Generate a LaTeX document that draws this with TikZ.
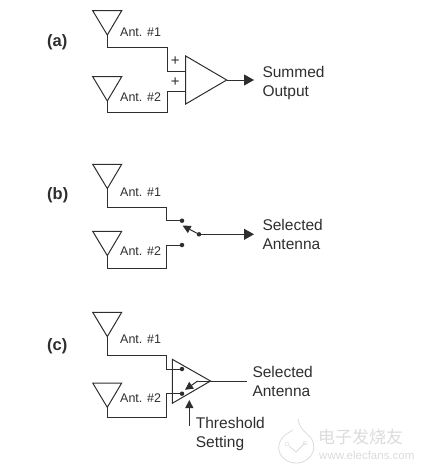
\documentclass[tikz,border=0pt]{standalone}
\usepackage{fontspec}
\setmainfont{Liberation Sans}
\newfontfamily\cjkfont{Noto Sans CJK SC}
\usetikzlibrary{arrows.meta,calc}
\definecolor{inkc}{gray}{0.18}
\definecolor{markc}{gray}{0.86}
\tikzset{
  wire/.style={draw=inkc,line width=1pt},
  bigtip/.style={-{Triangle[length=10pt,width=11pt]}},
  smalltip/.style={-{Triangle[length=8pt,width=8pt]}},
  lab/.style={anchor=west,inner sep=0pt,text=inkc,text height=11pt,text depth=0pt,font=\fontsize{15.5}{17}\selectfont},
  antlab/.style={anchor=west,inner sep=0pt,text=inkc,text height=9pt,text depth=0pt,font=\fontsize{12.5}{14}\selectfont},
  pluslab/.style={inner sep=0pt,text=inkc,font=\fontsize{15}{15}\selectfont},
  panel/.style={anchor=west,inner sep=0pt,text=inkc,font=\fontsize{16.5}{18}\selectfont\bfseries},
  contact/.style={circle,fill=inkc,inner sep=0pt,minimum size=4.5pt},
}
\begin{document}
\begin{tikzpicture}[x=1pt,y=-1pt,>=Stealth]
\useasboundingbox (0,0) rectangle (425,471);
% --- Antennas ---
\foreach \n/\top in {a1/10.7,a2/76.7,b1/164.3,b2/231.3,c1/312.3,c2/383}
  {\coordinate (\n L) at (92.7,\top);
   \coordinate (\n R) at (121.7,\top);
   \coordinate (\n T) at (107.3,\top+24.3);
   \draw[wire] (\n L) -- (\n R) -- (\n T) -- cycle;}
\foreach \n/\y/\txt in {a1/32/1,a2/96.7/2,b1/192.3/1,b2/250.7/2,c1/339.3/1,c2/397.7/2}
  {\node[antlab] (\n lab) at (120,\y) {Ant. \#\txt};}
% --- Summed ---
\node[panel] (alab) at (47,42) {(a)};
\coordinate (ampT) at (185.7,56); \coordinate (ampB) at (185.7,104);
\coordinate (ampO) at (226.7,80); \coordinate (aout) at (254,80);
\coordinate (ain1) at (185.7,71); \coordinate (ain2) at (185.7,91);
\draw[wire] (ampT) -- (ampO) -- (ampB) -- cycle;
\draw[wire] (a1T) -- (107.3,47.7) -- (167.7,47.7) -- (167.7,71) -- (ain1);
\draw[wire] (a2T) -- (107.3,112.3) -- (167.7,112.3) -- (167.7,91) -- (ain2);
\draw[wire,bigtip] (ampO) -- (aout);
\node[pluslab] (plus1) at (175.3,61.3) {+};
\node[pluslab] (plus2) at (175.3,82.3) {+};
\node[lab] (sum) at (262.3,72) {Summed};
\node[lab] (outp) at (262.3,91) {Output};
% --- Switched ---
\node[panel] (blab) at (47,195.7) {(b)};
\node[contact] (bc1) at (182,220.7) {};
\node[contact] (bc2) at (182,245) {};
\node[contact] (bp) at (199,234.3) {};
\coordinate (bout) at (254,234.3); \coordinate (barm) at (182.7,225.7);
\draw[wire] (b1T) -- (107.3,207.3) -- (166,207.3) -- (166,220.7) -- (bc1);
\draw[wire] (b2T) -- (107.3,268.7) -- (166,268.7) -- (166,245) -- (bc2);
\draw[wire,smalltip] (bp) -- (barm);
\draw[wire,bigtip] (bp) -- (bout);
\node[lab] (bsel) at (262.3,225) {Selected};
\node[lab] (bant) at (262.3,244.3) {Antenna};
% --- Threshold ---
\node[panel] (clab) at (47,346) {(c)};
\coordinate (cmpT) at (172.3,359.3); \coordinate (cmpB) at (172.3,403.3);
\coordinate (cmpO) at (210.5,381); \coordinate (cout) at (246.7,381);
\coordinate (cknee) at (197.7,381); \coordinate (carm) at (185,389.8);
\coordinate (cth) at (189.3,426); \coordinate (cthT) at (189.3,400);
\node[contact] (cc1) at (182,369) {};
\node[contact] (cc2) at (182,393.7) {};
\draw[wire] (cmpT) -- (cmpO) -- (cmpB) -- cycle;
\draw[wire] (c1T) -- (107.3,355.7) -- (166,355.7) -- (166,369) -- (cc1);
\draw[wire] (c2T) -- (107.3,417) -- (166,417) -- (166,393.7) -- (cc2);
\draw[wire] (cmpO) -- (cout);
\draw[wire] (cmpO) -- (cknee);
\draw[wire,smalltip] (cknee) -- (carm);
\draw[wire,smalltip] (cth) -- (cthT);
\node[lab] (csel) at (252.3,371.7) {Selected};
\node[lab] (cant) at (252.3,391) {Antenna};
\node[lab] (thr) at (195.7,423) {Threshold};
\node[lab] (sett) at (195.7,442.3) {Setting};
% --- Site mark ---
\draw[markc,line width=0.8pt] (298,419) .. controls (300,430) and (306,432) .. (311,438)
  .. controls (320,452) and (306,464) .. (296,463)
  .. controls (284,463) and (277,453) .. (279,445)
  .. controls (281,436) and (288,433) .. (293,430);
\draw[markc,line width=0.8pt] (305,443) -- (296,452) -- (289,446);
\node[draw=markc,circle,inner sep=0pt,minimum size=4pt] (mk1) at (305,443) {};
\node[draw=markc,circle,inner sep=0pt,minimum size=4pt] (mk2) at (287,444) {};
\node[anchor=west,inner sep=0pt,text=markc,font=\cjkfont\fontsize{17}{18}\selectfont] (mktxt) at (318,437) {电子发烧友};
\node[anchor=west,inner sep=0pt,text=markc,font=\fontsize{11.5}{13}\selectfont] (mkurl) at (319,455) {www.elecfans.com};
\end{tikzpicture}
\end{document}
